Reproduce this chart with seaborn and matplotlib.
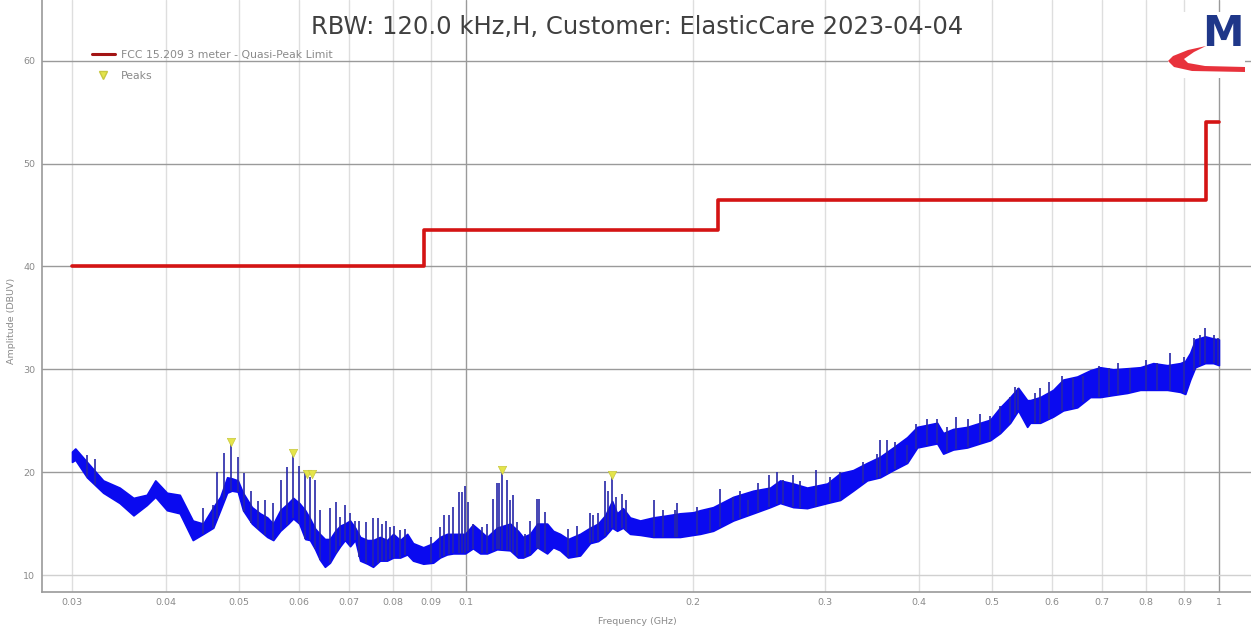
import numpy as np
import pandas as pd
import matplotlib
matplotlib.use("Agg")
import matplotlib.pyplot as plt
import seaborn as sns
from matplotlib.patches import Polygon, Rectangle
from matplotlib.lines import Line2D

# ---------------- data ----------------
title = "RBW: 120.0 kHz,H, Customer: ElasticCare 2023-04-04"
x_label = "Frequency (GHz)"
y_label = "Amplitude (DBUV)"
limit_label = "FCC 15.209 3 meter - Quasi-Peak Limit"
peaks_label = "Peaks"

# FCC limit steps (GHz, dBuV)
limit_freq = [0.03, 0.088, 0.216, 0.96, 1.0]
limit_level = [40.0, 43.5, 46.5, 54.0, 54.0]

# noise band of the measured trace: frequency, lower and upper envelope
band_freq = [0.0300, 0.0303, 0.0314, 0.0330, 0.0347, 0.0362, 0.0377, 0.0387, 0.0401, 0.0417,
             0.0434, 0.0448, 0.0462, 0.0472, 0.0482, 0.0489, 0.0498, 0.0506, 0.0520, 0.0533,
             0.0545, 0.0555, 0.0567, 0.0581, 0.0590, 0.0601, 0.0612, 0.0621, 0.0631, 0.0640,
             0.0650, 0.0660, 0.0671, 0.0681, 0.0691, 0.0702, 0.0713, 0.0724, 0.0740, 0.0753,
             0.0769, 0.0786, 0.0801, 0.0818, 0.0836, 0.0851, 0.0878, 0.0905, 0.0924, 0.0944,
             0.0962, 0.0998, 0.1022, 0.1045, 0.1067, 0.1100, 0.1145, 0.1173, 0.1191, 0.1217,
             0.1244, 0.1282, 0.1306, 0.1334, 0.1367, 0.1418, 0.1462, 0.1498, 0.1531, 0.1564,
             0.1588, 0.1617, 0.1652, 0.1704, 0.1773, 0.1851, 0.1925, 0.2004, 0.2047, 0.2130,
             0.2265, 0.2408, 0.2536, 0.2614, 0.2721, 0.2839, 0.3019, 0.3141, 0.3268, 0.3411,
             0.3549, 0.3694, 0.3855, 0.3975, 0.4099, 0.4225, 0.4304, 0.4437, 0.4631, 0.4819,
             0.4969, 0.5123, 0.5282, 0.5413, 0.5564, 0.5615, 0.5789, 0.6024, 0.6211, 0.6483,
             0.6746, 0.6955, 0.7237, 0.7554, 0.7860, 0.8180, 0.8538, 0.8883, 0.9021, 0.9159,
             0.9302, 0.9588, 0.9827, 1.0000]
band_low = [21.0, 21.2, 19.5, 18.0, 17.0, 15.8, 16.8, 17.6, 16.3, 16.0,
            13.4, 14.0, 14.6, 16.3, 18.0, 18.2, 18.1, 16.3, 15.0, 14.3,
            13.7, 13.4, 14.3, 15.0, 15.5, 15.0, 13.5, 13.4, 12.5, 11.5,
            10.8, 11.2, 12.1, 12.8, 13.4, 12.8, 13.4, 11.4, 11.1, 10.8,
            11.4, 11.4, 11.7, 11.7, 12.0, 11.4, 11.1, 11.2, 11.7, 12.0,
            12.1, 12.1, 12.6, 12.1, 12.1, 12.5, 12.4, 11.7, 11.7, 12.0,
            12.7, 12.1, 12.7, 12.4, 11.7, 11.9, 13.1, 13.3, 13.8, 14.6,
            14.3, 14.6, 14.0, 13.9, 13.7, 13.7, 13.7, 13.9, 14.0, 14.3,
            15.3, 16.0, 16.6, 17.0, 16.6, 16.5, 17.0, 17.3, 18.2, 19.2,
            19.5, 20.2, 20.9, 22.4, 22.6, 22.8, 21.8, 22.2, 22.4, 22.8,
            23.1, 23.8, 24.8, 26.0, 24.4, 24.8, 24.8, 25.4, 26.0, 26.3,
            27.3, 27.3, 27.5, 27.7, 28.0, 28.0, 28.0, 27.8, 27.6, 29.0,
            30.2, 30.6, 30.6, 30.4]
band_high = [22.0, 22.3, 21.0, 19.2, 18.5, 17.5, 17.8, 19.2, 18.0, 17.8,
             15.3, 15.0, 16.6, 17.6, 19.5, 19.4, 19.2, 18.0, 16.6, 16.0,
             15.6, 15.0, 16.3, 17.0, 17.5, 17.0, 16.3, 15.5, 14.5, 14.0,
             13.5, 13.5, 14.3, 14.8, 15.0, 15.3, 14.6, 13.7, 13.4, 13.4,
             13.7, 13.4, 14.0, 13.4, 14.0, 13.1, 12.7, 13.1, 13.7, 14.0,
             14.0, 14.0, 14.9, 14.3, 13.7, 14.6, 15.0, 14.3, 13.7, 14.0,
             15.0, 15.0, 14.3, 14.0, 13.5, 14.0, 14.6, 15.0, 15.8, 17.2,
             16.0, 16.5, 15.6, 15.3, 15.6, 15.8, 16.0, 16.1, 16.3, 16.6,
             17.6, 18.2, 18.5, 19.2, 18.9, 18.5, 18.9, 19.9, 20.2, 20.9,
             21.5, 22.4, 23.4, 24.4, 24.6, 24.8, 23.8, 24.2, 24.4, 24.8,
             25.1, 26.3, 27.3, 28.2, 27.0, 27.0, 27.3, 28.0, 29.0, 29.3,
             29.9, 30.2, 30.0, 30.1, 30.2, 30.6, 30.4, 30.6, 30.8, 31.6,
             32.9, 33.2, 33.0, 32.9]

# narrow emission spikes rising out of the band: frequency and top level
spike_freq = [0.0314, 0.0322, 0.0448, 0.0462, 0.0467, 0.0478, 0.0488, 0.0498, 0.0508, 0.0519,
              0.0530, 0.0541, 0.0555, 0.0568, 0.0579, 0.0590, 0.0601, 0.0612, 0.0621, 0.0631,
              0.0640, 0.0660, 0.0672, 0.0681, 0.0692, 0.0702, 0.0713, 0.0722, 0.0737, 0.0754,
              0.0764, 0.0774, 0.0784, 0.0793, 0.0803, 0.0818, 0.0831, 0.0898, 0.0924, 0.0936,
              0.0949, 0.0962, 0.0978, 0.0988, 0.0998, 0.1008, 0.1023, 0.1052, 0.1066, 0.1086,
              0.1099, 0.1108, 0.1118, 0.1133, 0.1145, 0.1156, 0.1168, 0.1197, 0.1217, 0.1242,
              0.1252, 0.1274, 0.1368, 0.1406, 0.1462, 0.1475, 0.1500, 0.1531, 0.1545, 0.1562,
              0.1584, 0.1614, 0.1634, 0.1776, 0.1830, 0.1896, 0.1907, 0.2026, 0.2110, 0.2177,
              0.2266, 0.2314, 0.2372, 0.2444, 0.2530, 0.2586, 0.2641, 0.2722, 0.2780, 0.2917,
              0.3046, 0.3141, 0.3373, 0.3514, 0.3549, 0.3621, 0.3716, 0.3853, 0.3965, 0.4095,
              0.4222, 0.4353, 0.4475, 0.4650, 0.4819, 0.4969, 0.5123, 0.5282, 0.5363, 0.5413,
              0.5702, 0.5789, 0.5940, 0.6180, 0.6392, 0.6609, 0.6920, 0.7135, 0.7350, 0.7624,
              0.8000, 0.8272, 0.8620, 0.8975, 0.9253, 0.9444, 0.9588, 0.9838, 0.9980]
spike_top = [21.7, 21.3, 16.5, 16.8, 20.0, 21.9, 22.7, 21.5, 19.9, 18.2,
             17.2, 17.3, 17.0, 19.2, 20.5, 21.8, 20.6, 19.9, 19.5, 19.2,
             16.3, 16.5, 17.1, 15.6, 16.8, 16.0, 15.3, 15.3, 15.2, 15.5,
             15.5, 15.0, 15.3, 14.7, 14.8, 14.4, 14.5, 13.7, 14.7, 15.8,
             15.8, 16.6, 18.1, 18.1, 18.7, 17.1, 15.0, 14.7, 15.0, 17.4,
             18.9, 18.9, 20.0, 19.2, 17.3, 17.8, 15.2, 14.0, 15.3, 17.4,
             17.4, 16.1, 14.5, 14.8, 16.0, 15.8, 16.0, 19.1, 18.2, 19.5,
             17.6, 17.9, 17.3, 17.3, 16.3, 16.3, 17.0, 16.6, 16.3, 18.4,
             17.6, 18.2, 17.3, 18.9, 19.7, 20.0, 19.2, 19.7, 19.1, 20.2,
             19.5, 20.0, 21.0, 21.8, 23.1, 23.1, 22.9, 22.6, 24.7, 25.2,
             25.2, 24.4, 25.4, 25.2, 25.7, 25.5, 26.4, 27.3, 28.3, 28.2,
             27.7, 28.2, 28.8, 29.3, 29.2, 29.3, 30.3, 30.1, 30.6, 30.1,
             30.9, 30.6, 31.6, 31.2, 33.0, 33.3, 34.0, 33.3, 33.0]

# detected peaks (yellow markers)
peak_freq = [0.0488, 0.0590, 0.0615, 0.0625, 0.1117, 0.1564]
peak_level = [22.9, 21.9, 19.8, 19.8, 20.2, 19.7]

x_ticks = [0.03, 0.04, 0.05, 0.06, 0.07, 0.08, 0.09, 0.1, 0.2, 0.3, 0.4, 0.5, 0.6, 0.7, 0.8, 0.9, 1.0]
x_tick_labels = ["0.03", "0.04", "0.05", "0.06", "0.07", "0.08", "0.09", "0.1",
                 "0.2", "0.3", "0.4", "0.5", "0.6", "0.7", "0.8", "0.9", "1"]
y_ticks = [10, 20, 30, 40, 50, 60]

# ---------------- drawing ----------------
sns.set_theme(style="white")
plt.rcParams['font.family'] = ['DejaVu Sans']

W, H = 1251, 630
fig = plt.figure(figsize=(W / 100, H / 100), dpi=100)
ax = fig.add_axes([42 / W, 1 - 592 / H, 1 - 42 / W, 592 / H])

limit_df = pd.DataFrame({"freq": limit_freq, "level": limit_level})
peaks_df = pd.DataFrame({"freq": peak_freq, "level": peak_level})

blue = "#0a0af0"
ax.fill_between(band_freq, band_low, band_high, color=blue, linewidth=1.2,
                edgecolor=blue, zorder=3)
base = np.interp(spike_freq, band_freq, band_low)
ax.vlines(spike_freq, base, spike_top, colors="#2626a8", linewidth=1.2, zorder=4)

sns.lineplot(data=limit_df, x="freq", y="level", ax=ax, color="#d41414",
             linewidth=2.6, drawstyle="steps-post", estimator=None, sort=False,
             zorder=5)
sns.scatterplot(data=peaks_df, x="freq", y="level", ax=ax, marker="v",
                color="#e4e44a", edgecolor="#c8c840", linewidth=0.5, s=36, zorder=6)

ax.set_xscale("log")
ax.set_xlim(0.02737, 1.103)
ax.set_ylim(8.35, 65.9)
ax.set_xticks(x_ticks)
ax.set_xticklabels(x_tick_labels)
ax.xaxis.set_minor_locator(matplotlib.ticker.NullLocator())
ax.set_yticks(y_ticks)
ax.set_yticklabels([str(v) for v in y_ticks])
ax.tick_params(axis="both", length=0, labelsize=6.8, labelcolor="#8a8a8a")
ax.tick_params(axis="x", pad=4)
ax.tick_params(axis="y", pad=5)
ax.set_xlabel("")
ax.set_ylabel("")

ax.grid(True, which="major", axis="both", linewidth=1.0)
for t, gl in zip(x_ticks, ax.xaxis.get_gridlines()):
    gl.set_color("#9a9a9a" if t in (0.1, 1.0) else "#dedede")
for t, gl in zip(y_ticks, ax.yaxis.get_gridlines()):
    gl.set_color("#d0d0d0" if t == 10 else "#9a9a9a")
ax.set_axisbelow(True)

for side in ("top", "right"):
    ax.spines[side].set_visible(False)
for side in ("left", "bottom"):
    ax.spines[side].set_color("#9a9a9a")
    ax.spines[side].set_linewidth(1.2)

# legend
handles = [Line2D([], [], color="#a31414", linewidth=2.2),
           Line2D([], [], linestyle="none", marker="v", markersize=6,
                  markerfacecolor="#e4e44a", markeredgecolor="#c8c840")]
ax.legend(handles, [limit_label, peaks_label], loc="upper left",
          bbox_to_anchor=(92 / W, 1 - 50 / H), bbox_transform=fig.transFigure,
          frameon=False, fontsize=7.8, labelcolor="#8a8a8a", handlelength=2.1,
          handletextpad=0.6, borderaxespad=0, borderpad=0, labelspacing=1.0)

# titles / axis labels
fig.text(637 / W, 1 - 27 / H, title, ha="center", va="center", fontsize=17.5,
         color="#404040")
fig.text(637 / W, 1 - 621 / H, x_label, ha="center", va="center", fontsize=6.8,
         color="#8a8a8a")
fig.text(12 / W, 1 - 321 / H, y_label, ha="center", va="center", fontsize=6.8,
         color="#8a8a8a", rotation=90)

# logo
def fp(px, py):
    return (px / W, 1 - py / H)

fig.add_artist(Rectangle(fp(1168, 78), 77 / W, 66 / H, transform=fig.transFigure,
                         facecolor="white", edgecolor="none", zorder=2))
fig.text(1223 / W, 1 - 34 / H, "M", ha="center", va="center", fontsize=30,
         fontweight="heavy", color="#1f3789", zorder=3)
swoosh = [(1206, 46), (1188, 50), (1173, 56), (1168, 61), (1174, 67), (1192, 71),
          (1245, 72), (1245, 67), (1205, 66), (1188, 63), (1184, 59), (1194, 52)]
fig.add_artist(Polygon([fp(*p) for p in swoosh], closed=True, transform=fig.transFigure,
                       facecolor="#e8323c", edgecolor="none", zorder=3))

fig.savefig("out.png", dpi=100)
